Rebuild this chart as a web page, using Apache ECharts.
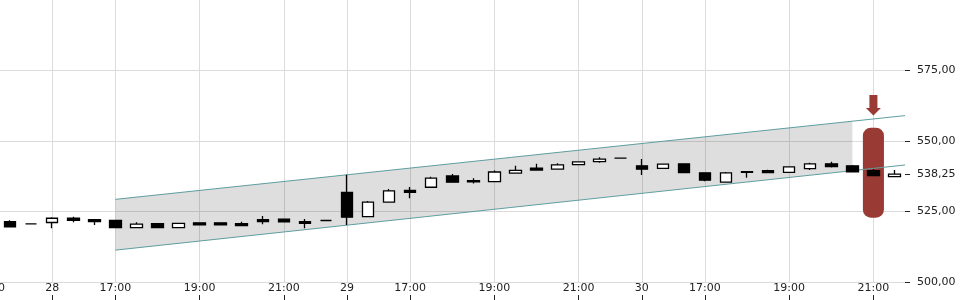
<!DOCTYPE html>
<html>
<head>
<meta charset="utf-8">
<script src="https://cdn.jsdelivr.net/npm/echarts@6/dist/echarts.min.js"></script>
<style>
html,body{margin:0;padding:0;background:#fff;}
#chart{width:960px;height:300px;}
</style>
</head>
<body>
<div id="chart"></div>
<script>
// 30-minute candles, day + time
const categories = [
  '27 21:00','27 21:30','27 22:00',
  '28 15:30','28 16:00','28 16:30','28 17:00','28 17:30','28 18:00','28 18:30','28 19:00','28 19:30','28 20:00','28 20:30','28 21:00','28 21:30','28 22:00',
  '29 15:30','29 16:00','29 16:30','29 17:00','29 17:30','29 18:00','29 18:30','29 19:00','29 19:30','29 20:00','29 20:30','29 21:00','29 21:30','29 22:00',
  '30 15:30','30 16:00','30 16:30','30 17:00','30 17:30','30 18:00','30 18:30','30 19:00','30 19:30','30 20:00','30 20:30','30 21:00','30 21:30'
];
// [open, close, low, high]
const candles = [
  '-',
  [521.4,519.6,519.6,521.9],
  [520.6,520.6,520.6,520.6],
  [521.1,522.6,519.1,523.0],
  [522.6,521.9,521.2,523.1],
  [522.1,521.4,520.2,522.1],
  [521.8,519.3,519.3,522.1],
  [519.3,520.5,519.3,521.2],
  [520.7,519.3,519.3,520.7],
  [519.3,520.8,519.3,520.8],
  [521.0,520.3,520.3,521.0],
  [521.0,520.3,520.3,521.0],
  [520.7,520.0,520.0,521.4],
  [522.1,521.4,520.5,523.4],
  [522.3,521.3,521.3,522.3],
  [521.4,520.8,519.1,522.3],
  [521.8,521.8,521.8,521.8],
  [531.8,523.0,520.2,538.0],
  [523.2,528.3,523.2,528.7],
  [528.3,532.3,528.3,533.0],
  [532.5,531.8,529.7,533.7],
  [533.6,536.8,533.6,537.3],
  [537.6,535.4,535.4,538.3],
  [535.9,535.5,534.9,536.8],
  [535.6,539.0,535.6,539.5],
  [538.6,539.6,538.6,541.2],
  [540.4,539.7,539.7,541.9],
  [540.0,541.5,540.0,542.1],
  [541.6,542.6,541.6,542.8],
  [542.7,543.6,542.3,544.2],
  [543.9,543.9,543.9,543.9],
  [541.2,540.0,537.9,543.6],
  [540.3,541.8,540.3,541.8],
  [541.9,538.8,538.8,541.9],
  [538.7,536.1,535.7,538.7],
  [535.4,538.7,535.4,539.0],
  [539.1,538.9,537.0,539.1],
  [539.5,538.8,538.8,539.8],
  [538.9,540.8,538.9,540.8],
  [540.2,541.9,539.7,542.3],
  [541.9,540.9,540.6,542.6],
  [541.2,539.1,539.1,541.5],
  [539.5,537.7,537.7,540.1],
  [537.4,538.25,537.4,539.7]
];
// x tick labels (category index -> text)
const tickIndex = [0, 3, 6, 10, 14, 17, 20, 24, 28, 31, 34, 38, 42];
const tickText  = ['21:00','28','17:00','19:00','21:00','29','17:00','19:00','21:00','30','17:00','19:00','21:00'];
// y tick labels
const yTicks = [500, 525, 538.25, 550, 575];
// trend channel  [index, value]
const upperLine = [[6, 529.3], [43.5, 559.0]];
const lowerLine = [[6, 511.3], [43.5, 541.5]];
const channelFill = [[6, 511.3, 529.3], [41, 539.5, 557.0]]; // [index, low, high]
// signal marker
const markerIndex = 42;
const markerRange = [522.8, 554.7];
const arrowRange = [559.0, 566.3];

const FONT = 'DejaVu Sans';
const RED = '#993b34';
const chart = echarts.init(document.getElementById('chart'), null, {renderer: 'canvas'});
const isTick = (i) => tickIndex.indexOf(i) >= 0;

chart.setOption({
  animation: false,
  backgroundColor: '#fff',
  grid: {left: -21.5, right: 55, top: 0, bottom: 18, containLabel: false, outerBoundsMode: 'none'},
  xAxis: [{
    type: 'category',
    data: categories,
    boundaryGap: true,
    offset: 13,
    axisLine: {show: false, onZero: false},
    axisTick: {show: true, alignWithLabel: true, length: 5, interval: (i) => isTick(i), lineStyle: {color: '#222', width: 1}},
    axisLabel: {show: true, inside: true, margin: 1, interval: (i) => isTick(i),
      formatter: (v, i) => { const k = tickIndex.indexOf(i); return k >= 0 ? tickText[k] : ''; },
      color: '#222', fontFamily: FONT, fontSize: 11},
    splitLine: {show: true, alignWithLabel: true, interval: (i) => isTick(i), lineStyle: {color: '#dcdcdc', width: 1}}
  }, {
    type: 'value',
    min: -0.5, max: 43.5,
    show: false,
    axisLine: {onZero: false},
    splitLine: {show: false}
  }],
  yAxis: [{
    type: 'value',
    position: 'right',
    min: 500, max: 600, interval: 25,
    axisLine: {show: false, onZero: false},
    axisTick: {show: false},
    axisLabel: {show: false},
    splitLine: {show: true, showMaxLine: false, lineStyle: {color: '#dcdcdc', width: 1}}
  }, {
    type: 'value',
    position: 'right',
    min: 500, max: 600, interval: 25,
    axisLine: {show: false, onZero: false},
    axisTick: {show: true, length: 5, customValues: yTicks, lineStyle: {color: '#222', width: 1}},
    axisLabel: {show: true, margin: 12, customValues: yTicks, color: '#222', fontFamily: FONT, fontSize: 11,
      formatter: (v) => v.toFixed(2).replace('.', ',')},
    splitLine: {show: false}
  }],
  series: [
    {
      type: 'custom',
      xAxisIndex: 1, yAxisIndex: 0,
      z: 1,
      silent: true,
      data: [0],
      renderItem: function (params, api) {
        const pts = [];
        channelFill.forEach(d => pts.push(api.coord([d[0], d[2]])));
        for (let j = channelFill.length - 1; j >= 0; j--) pts.push(api.coord([channelFill[j][0], channelFill[j][1]]));
        return {type: 'polygon', shape: {points: pts}, style: {fill: 'rgba(0,0,0,0.13)'}};
      }
    },
    {
      type: 'custom',
      xAxisIndex: 1, yAxisIndex: 0,
      z: 2,
      silent: true,
      data: [[markerIndex, markerRange[0], markerRange[1], arrowRange[0], arrowRange[1]]],
      renderItem: function (params, api) {
        const idx = api.value(0);
        const top = api.coord([idx, api.value(2)]);
        const bot = api.coord([idx, api.value(1)]);
        const w = api.size([1, 0])[0];
        const tip = api.coord([idx, api.value(3)]);
        const atop = api.coord([idx, api.value(4)]);
        const cx = tip[0];
        const hh = 7.5;
        return {type: 'group', children: [
          {type: 'rect', shape: {x: top[0] - w / 2, y: top[1], width: w, height: bot[1] - top[1], r: 8}, style: {fill: RED}},
          {type: 'polygon', shape: {points: [
            [cx - 4, atop[1]], [cx + 4, atop[1]], [cx + 4, tip[1] - hh], [cx + 7.5, tip[1] - hh],
            [cx, tip[1]], [cx - 7.5, tip[1] - hh], [cx - 4, tip[1] - hh]
          ]}, style: {fill: RED}}
        ]};
      }
    },
    {
      type: 'line', xAxisIndex: 1, yAxisIndex: 0, z: 3, silent: true,
      data: upperLine, symbol: 'none', lineStyle: {color: '#5f9ea0', width: 1}
    },
    {
      type: 'line', xAxisIndex: 1, yAxisIndex: 0, z: 3, silent: true,
      data: lowerLine, symbol: 'none', lineStyle: {color: '#5f9ea0', width: 1}
    },
    {
      type: 'candlestick',
      xAxisIndex: 0, yAxisIndex: 0,
      z: 4,
      barWidth: 12,
      data: candles,
      itemStyle: {color: '#ffffff', color0: '#000000', borderColor: '#000000', borderColor0: '#000000', borderWidth: 1.3}
    }
  ]
});
</script>
</body>
</html>
